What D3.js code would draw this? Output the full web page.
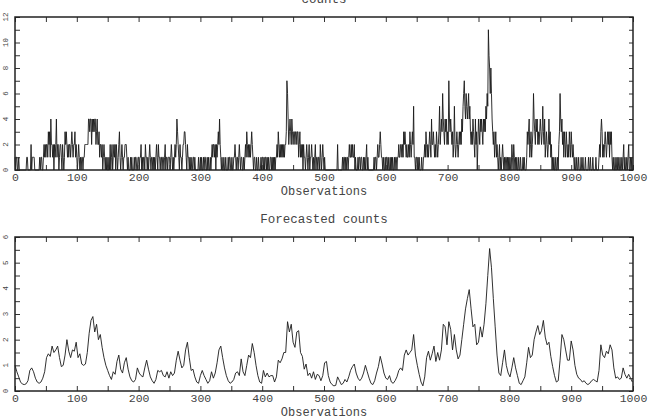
<!DOCTYPE html>
<html>
<head>
<meta charset="utf-8">
<script src="https://cdn.jsdelivr.net/npm/d3@7"></script>
<style>
  body { margin: 0; background: #fff; }
  text { font-family: "Liberation Mono", "DejaVu Sans Mono", monospace; fill: #444; }
</style>
</head>
<body>
<div id="chart"></div>
<script>
// observed counts, one value per observation (0..999)
var counts = [
  1,0,1,1,0,0,1,0,0,0, 0,0,0,0,0,0,0,0,0,1, 1,0,0,0,0,0,2,0,1,1, 1,1,0,0,0,0,0,0,0,0, 1,0,1,1,0,0,1,2,1,2,
  1,2,2,1,3,2,3,1,4,2, 2,1,2,0,2,1,2,4,1,2, 2,0,1,2,2,1,0,2,1,0, 1,3,2,3,2,1,2,1,2,2, 1,2,3,2,1,2,2,3,1,2,
  1,0,1,2,1,0,1,0,1,1, 0,1,1,2,2,2,2,2,2,4, 4,3,4,4,2,4,3,4,3,4, 4,2,3,4,2,2,3,1,2,2, 1,2,0,1,2,1,0,1,0,1,
  0,0,1,0,2,0,1,2,0,1, 2,1,2,0,2,1,0,1,2,3, 1,0,1,2,1,0,1,1,2,2, 2,1,0,1,0,0,0,1,0,1, 0,0,0,1,0,1,1,0,0,1,
  1,0,1,1,2,0,1,0,1,1, 0,2,1,1,0,1,0,1,2,1, 0,1,1,0,1,0,1,0,1,2, 1,0,2,1,1,0,1,1,0,1, 1,0,1,2,0,1,1,0,1,1,
  1,0,1,2,1,0,1,0,1,2, 1,2,4,3,2,1,0,2,1,1, 0,1,2,2,3,3,2,1,0,2, 1,1,0,1,0,1,0,0,1,1, 0,1,0,0,0,0,0,1,0,0,
  1,0,1,0,0,1,0,1,1,0, 0,1,0,1,0,0,1,0,1,2, 1,2,2,1,2,0,2,1,2,3, 2,4,2,1,0,1,0,0,1,0, 0,1,0,0,0,1,0,1,1,0,
  0,1,0,0,1,1,2,1,0,1, 1,0,1,2,1,0,1,1,0,0, 1,0,1,2,1,3,2,1,2,1, 2,1,2,3,2,1,0,1,1,0, 0,1,0,0,1,0,0,0,1,0,
  1,1,0,1,0,1,1,0,1,0, 1,0,0,1,1,0,1,0,1,0, 1,0,1,1,2,1,3,2,1,2, 1,2,1,2,1,2,1,2,2,3, 7,6,4,2,3,4,3,2,4,3,
  2,3,3,2,3,3,2,3,3,1, 2,3,1,2,1,2,0,2,1,1, 0,1,2,1,0,1,2,0,1,1, 2,1,0,1,0,1,2,0,1,1, 0,1,1,0,2,1,0,1,2,1,
  0,1,0,0,0,0,0,0,0,0, 0,0,0,0,0,0,0,0,0,0, 0,0,2,0,0,0,0,0,0,0, 1,0,1,1,0,1,0,1,1,0, 1,2,1,1,2,1,2,1,1,2,
  0,1,0,0,0,1,0,1,1,0, 1,1,0,0,1,0,1,0,1,2, 0,1,0,0,0,0,0,0,0,0, 0,1,0,1,1,0,1,2,1,1, 2,3,2,1,1,0,1,0,0,1,
  0,1,1,0,1,0,0,1,0,1, 0,1,0,0,1,0,1,1,0,1, 1,2,1,1,2,2,1,2,1,3, 2,3,2,1,2,1,1,2,1,3, 2,1,2,3,2,5,1,1,0,1,
  1,0,1,0,1,0,0,0,1,0, 0,1,1,2,1,3,2,1,2,1, 2,3,2,1,4,2,2,3,2,1, 2,1,3,2,1,2,3,5,2,3, 4,3,6,4,3,2,4,3,4,2,
  3,2,7,4,3,4,3,2,3,1, 2,5,2,1,2,3,2,1,2,3, 2,3,2,4,3,5,6,7,5,4, 6,5,4,5,6,4,5,3,2,3, 2,4,3,2,1,4,2,3,0,2,
  4,3,2,4,3,4,3,2,4,3, 4,3,5,4,6,5,11,9,8,6, 8,6,4,3,2,3,1,2,3,1, 2,1,0,1,2,0,1,0,1,2, 1,0,1,0,1,1,0,1,0,1,
  0,1,0,0,2,1,0,2,1,0, 1,0,1,0,0,1,0,0,1,0, 0,0,1,0,1,0,0,0,1,3, 2,3,4,1,2,3,1,2,3,6, 4,3,2,4,3,4,2,3,2,3,
  4,3,2,3,5,3,2,4,1,2, 3,2,1,2,4,2,3,1,2,0, 1,0,1,0,0,1,0,0,1,0, 2,3,6,4,3,4,2,3,1,3, 2,1,3,2,1,2,1,3,2,1,
  3,2,1,2,1,0,1,0,0,1, 0,0,1,0,0,0,1,0,0,1, 0,0,0,1,0,0,0,0,1,0, 0,1,0,0,0,1,0,0,0,0, 1,0,0,0,0,1,2,1,3,4,
  3,1,2,1,2,3,2,1,2,3, 2,3,1,3,2,3,1,0,1,0, 0,1,0,0,1,0,1,0,0,1, 0,0,1,0,1,2,0,1,0,0, 1,0,1,2,0,0,1,0,1,0
];

var forecastStep = 3;
var forecast = [
  1.0,0.75,0.55,0.35,0.27,0.25,0.28,0.4,0.8,0.9,
  0.75,0.5,0.35,0.3,0.35,0.5,0.75,1.3,1.45,1.35,
  1.75,1.5,1.6,1.75,1.3,0.95,1.0,1.4,2.0,1.55,
  1.3,1.6,1.55,1.9,1.3,1.45,1.05,1.0,1.05,1.5,
  2.25,2.75,2.9,2.3,2.6,2.0,2.2,1.7,1.3,1.0,
  0.8,0.6,0.45,0.75,0.65,1.15,1.4,0.85,0.7,1.1,
  1.3,0.85,0.55,0.4,0.35,0.45,0.9,0.7,0.6,0.55,
  0.9,1.2,0.85,0.55,0.4,0.3,0.45,0.8,0.75,0.8,
  0.6,0.55,0.75,0.5,0.75,0.6,0.7,1.2,1.55,1.2,
  0.9,1.0,1.6,1.9,1.3,0.8,0.85,0.55,0.35,0.3,
  0.6,0.8,0.6,0.45,0.3,0.4,0.75,0.5,0.7,1.1,
  1.6,1.75,1.3,0.9,0.6,0.4,0.3,0.35,0.45,0.7,
  0.75,0.6,1.25,0.75,0.6,1.0,1.4,1.3,1.85,1.5,
  1.0,0.6,0.35,0.3,0.8,0.55,0.7,0.55,0.6,0.6,
  0.35,0.55,1.2,1.1,1.25,1.5,1.5,2.7,2.3,2.6,
  1.9,1.7,2.3,2.35,1.5,1.35,0.85,1.05,0.6,0.7,
  0.5,0.75,0.45,0.65,0.6,0.4,0.6,1.1,1.15,0.6,
  0.35,0.25,0.2,0.22,0.55,0.4,0.25,0.3,0.45,0.35,
  0.55,0.8,0.95,1.05,0.7,0.5,0.4,0.5,0.7,1.0,
  0.75,0.5,0.3,0.25,0.4,0.7,0.95,1.35,1.05,0.7,
  0.5,0.45,0.6,0.35,0.3,0.4,0.55,0.8,0.9,0.8,
  1.4,1.6,1.4,1.5,1.6,2.2,1.4,1.0,0.65,0.35,
  0.2,0.55,1.3,1.55,1.2,1.45,1.75,1.15,1.5,1.2,
  1.6,2.6,2.5,1.8,2.7,2.4,1.6,2.2,1.6,1.25,
  1.4,2.0,2.6,3.2,3.6,3.95,3.2,2.5,2.6,1.8,
  1.9,2.5,2.1,2.6,3.4,4.5,5.55,4.8,3.6,2.5,
  1.4,0.7,0.6,1.1,1.6,1.0,0.7,0.55,0.9,1.3,
  0.9,0.6,0.3,0.25,0.4,0.55,1.1,1.7,1.3,1.4,
  2.0,2.3,2.55,2.2,2.35,2.75,2.1,1.8,1.9,1.35,
  0.95,0.6,0.35,0.4,1.2,2.2,2.0,1.6,1.2,1.2,
  1.95,1.6,1.0,0.65,0.5,0.45,0.35,0.4,0.3,0.25,
  0.3,0.4,0.45,0.4,0.35,0.8,1.8,1.4,1.3,1.55,
  1.45,1.8,1.6,0.9,0.5,0.55,0.45,0.5,0.9,0.65,
  0.5,0.65,0.5,0.35
];

var xTicks = d3.range(0, 1001, 50);
var xLabels = [0, 100, 200, 300, 400, 500, 600, 700, 800, 900, 1000];
var countTicks = d3.range(0, 13, 1);
var countLabels = [0, 2, 4, 6, 8, 10, 12];
var forecastTicks = d3.range(0, 6.01, 0.5);
var forecastLabels = [0, 1, 2, 3, 4, 5, 6];

var width = 651, height = 418;
var left = 15, right = 633;

var svg = d3.select("#chart")
    .append("svg")
    .attr("width", width)
    .attr("height", height);

var x = d3.scaleLinear().domain([0, 1000]).range([left, right]);

function drawPanel(p) {
    var y = d3.scaleLinear().domain([0, p.ymax]).range([p.bottom, p.top]);
    var g = svg.append("g");

    // title
    g.append("text")
        .attr("x", (left + right) / 2)
        .attr("y", p.titleY)
        .attr("text-anchor", "middle")
        .style("font-size", "12.5px")
        .text(p.title);

    // series
    var line = d3.line()
        .x(function(d, i) { return x(i * p.step); })
        .y(function(d) { return y(d); });

    g.append("path")
        .datum(p.data)
        .attr("fill", "none")
        .attr("stroke", "#1a1a1a")
        .attr("stroke-width", 0.9)
        .attr("d", line);

    // axes, ticks pointing inwards
    var bottomAxis = d3.axisBottom(x)
        .tickValues(xTicks)
        .tickSizeInner(-5).tickSizeOuter(0).tickPadding(3)
        .tickFormat(function(d) { return xLabels.indexOf(d) >= 0 ? d : ""; });
    var ab = g.append("g")
        .attr("transform", "translate(0," + p.bottom + ")")
        .call(bottomAxis);
    ab.selectAll("text").style("font-size", "11.5px").attr("fill", "#444");

    g.append("g")
        .attr("transform", "translate(0," + p.top + ")")
        .call(d3.axisTop(x).tickValues(xTicks).tickSizeInner(-5).tickSizeOuter(0).tickFormat(""));

    g.append("g")
        .attr("transform", "translate(" + left + ",0)")
        .call(d3.axisLeft(y).tickValues(p.yTicks).tickSizeInner(-5).tickSizeOuter(0).tickFormat(""));

    g.append("g")
        .attr("transform", "translate(" + right + ",0)")
        .call(d3.axisRight(y).tickValues(p.yTicks).tickSizeInner(-4).tickSizeOuter(0).tickFormat(""));

    g.selectAll(".domain").remove();
    g.selectAll(".tick line").attr("stroke", "#333");

    // rotated y labels
    g.selectAll(".ylab")
        .data(p.yLabels)
        .enter()
        .append("text")
        .attr("class", "ylab")
        .attr("x", 5.5)
        .attr("y", function(d) { return y(d); })
        .attr("dy", "0.35em")
        .attr("text-anchor", "middle")
        .attr("transform", function(d) { return "rotate(-90,5.5," + y(d) + ")"; })
        .style("font-size", "7.5px")
        .text(function(d) { return d; });

    // frame
    g.append("rect")
        .attr("x", left).attr("y", p.top)
        .attr("width", right - left).attr("height", p.bottom - p.top)
        .attr("fill", "none")
        .attr("stroke", "#222")
        .attr("stroke-width", 1.5);

    // x axis title
    g.append("text")
        .attr("x", (left + right) / 2)
        .attr("y", p.bottom + 25)
        .attr("text-anchor", "middle")
        .style("font-size", "12px")
        .text("Observations");
}

drawPanel({ data: counts, step: 1, ymax: 12, top: 17, bottom: 170,
            title: "counts", titleY: 3, yTicks: countTicks, yLabels: countLabels });
drawPanel({ data: forecast, step: forecastStep, ymax: 6, top: 237, bottom: 391,
            title: "Forecasted counts", titleY: 223, yTicks: forecastTicks, yLabels: forecastLabels });
</script>
</body>
</html>
